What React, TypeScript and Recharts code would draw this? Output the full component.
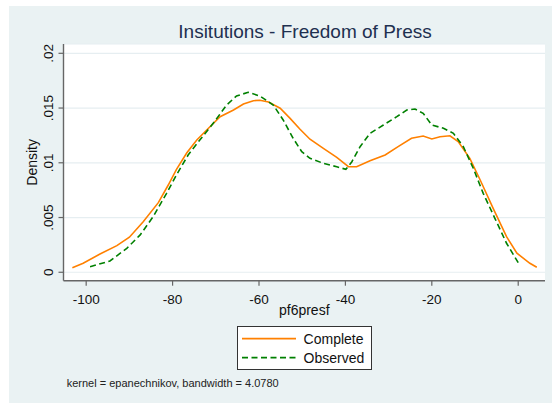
import React from "react";
import {
  ComposedChart,
  Line,
  XAxis,
  YAxis,
  CartesianGrid,
  Legend,
} from "recharts";

// kernel density estimates
const completeX = [
  -103.2, -100.7, -96.8, -92.9, -90.0, -86.8, -83.3, -81.0, -79.1, -76.7,
  -74.4, -72.1, -69.0, -65.9, -63.6, -61.3, -59.8, -57.8, -55.1, -52.8,
  -50.5, -48.2, -45.1, -42.0, -39.3, -37.4, -34.3, -30.8, -27.8, -24.7,
  -22.0, -20.0, -18.1, -15.8, -13.9, -11.2, -8.8, -5.8, -2.7, -0.3, 2.7, 4.3,
];
const completeDensity = [
  0.00042, 0.00082, 0.00167, 0.00243, 0.0032, 0.00462, 0.00636, 0.00797,
  0.0094, 0.01092, 0.01208, 0.013, 0.01421, 0.01482, 0.01537, 0.01567,
  0.01571, 0.01555, 0.01498, 0.01406, 0.01306, 0.01215, 0.01132, 0.0105,
  0.00964, 0.00964, 0.01019, 0.01071, 0.01147, 0.01224, 0.01245, 0.01217,
  0.01238, 0.01247, 0.01193, 0.01041, 0.00843, 0.00584, 0.00325, 0.00174,
  0.00082, 0.00046,
];

const observedX = [
  -99.1, -94.5, -90.6, -87.5, -84.5, -81.4, -79.1, -76.4, -73.7, -70.6,
  -67.5, -65.2, -62.5, -59.8, -56.7, -54.4, -52.1, -50.1, -48.2, -45.1,
  -42.0, -39.9, -38.5, -36.6, -34.3, -31.2, -28.1, -25.8, -23.9, -22.0,
  -20.0, -17.3, -15.0, -12.7, -10.4, -8.1, -5.4, -2.7, 0.0,
];
const observedDensity = [
  0.00051, 0.00103, 0.00219, 0.00341, 0.00508, 0.00721, 0.00889, 0.01071,
  0.01208, 0.0136, 0.01528, 0.0161, 0.01644, 0.0161, 0.01528, 0.01391,
  0.01224, 0.01101, 0.01041, 0.00995, 0.00964, 0.0094, 0.0101, 0.01147,
  0.01269, 0.01345, 0.01421, 0.01482, 0.01491, 0.01452, 0.01345, 0.01315,
  0.01269, 0.01147, 0.0095, 0.00721, 0.00493, 0.00265, 0.00088,
];

const xTicks = [-100, -80, -60, -40, -20, 0];
const yTicks = [0, 0.005, 0.01, 0.015, 0.02];
const yTickLabels = ["0", ".005", ".01", ".015", ".02"];

const seriesNames = ["Complete", "Observed"];
const seriesColors = ["#FF8000", "#008000"];
const seriesDashes = ["", "6 3.5"];

const FONT = "'Liberation Sans', Arial, sans-serif";
const AXIS = "#666";

const completeData = completeX.map((x, i) => ({ x, y: completeDensity[i] }));
const observedData = observedX.map((x, i) => ({ x, y: observedDensity[i] }));

function XTick({ x, y, payload }: any) {
  return (
    <text x={x} y={y + 15.8} textAnchor="middle" fontSize={13.5} fill="#111" fontFamily={FONT}>
      {payload.value}
    </text>
  );
}

function YTick({ y, payload }: any) {
  const idx = yTicks.indexOf(payload.value);
  return (
    <text
      transform={`translate(52.8, ${y}) rotate(-90)`}
      textAnchor="middle"
      fontSize={13.5}
      fill="#111"
      fontFamily={FONT}
    >
      {yTickLabels[idx]}
    </text>
  );
}

function LegendBox() {
  return (
    <div
      style={{
        width: "100%",
        height: "100%",
        boxSizing: "border-box",
        border: "1px solid #333",
        background: "#fff",
      }}
    >
      <svg width={133} height={42} style={{ display: "block" }}>
        {seriesNames.map((name, i) => (
          <g key={name}>
            <line
              x1={4}
              x2={58}
              y1={11.6 + i * 19}
              y2={11.6 + i * 19}
              stroke={seriesColors[i]}
              strokeWidth={1.6}
              strokeDasharray={seriesDashes[i] || undefined}
            />
            <text x={65.6} y={16.6 + i * 19} fontSize={14} fill="#111" fontFamily={FONT}>
              {name}
            </text>
          </g>
        ))}
      </svg>
    </div>
  );
}

export default function App() {
  return (
    <div
      style={{
        position: "absolute",
        left: 0,
        top: 0,
        width: 552,
        height: 403,
        background: "#fff",
        fontFamily: FONT,
        overflow: "hidden",
      }}
    >
      {/* graph region */}
      <div
        style={{
          position: "absolute",
          left: 9,
          top: 6,
          width: 543,
          height: 397,
          background: "#EAF2F3",
        }}
      />
      <div
        style={{
          position: "absolute",
          left: 0,
          top: 22.4,
          width: 610,
          textAlign: "center",
          fontSize: 19,
          lineHeight: "19px",
          color: "#1e3050",
          whiteSpace: "nowrap",
        }}
      >
        Insitutions - Freedom of Press
      </div>

      <div style={{ position: "absolute", left: 0, top: 0 }}>
        <ComposedChart
          width={552}
          height={403}
          margin={{ top: 44, right: 7, bottom: 92.3, left: 3.5 }}
        >
          <CartesianGrid
            vertical={false}
            horizontal
            stroke="#E6EEF1"
            strokeWidth={1.2}
            fill="#fff"
          />
          <XAxis
            dataKey="x"
            type="number"
            domain={[-105.25, 6.2]}
            ticks={xTicks}
            allowDataOverflow
            height={30}
            tickSize={5}
            axisLine={{ stroke: AXIS, strokeWidth: 1.4 }}
            tickLine={{ stroke: AXIS, strokeWidth: 1.2 }}
            tick={<XTick />}
            label={{
              value: "pf6presf",
              content: ({ viewBox }: any) => (
                <text
                  x={viewBox.x + viewBox.width / 2}
                  y={viewBox.y + 34}
                  textAnchor="middle"
                  fontSize={14}
                  fill="#111"
                  fontFamily={FONT}
                >
                  pf6presf
                </text>
              ),
            }}
          />
          <YAxis
            type="number"
            domain={[-0.00077, 0.02085]}
            ticks={yTicks}
            allowDataOverflow
            width={60}
            tickSize={5}
            axisLine={{ stroke: AXIS, strokeWidth: 1.4 }}
            tickLine={{ stroke: AXIS, strokeWidth: 1.2 }}
            tick={<YTick />}
            label={{
              value: "Density",
              content: ({ viewBox }: any) => (
                <text
                  transform={`translate(${viewBox.x + 33}, ${viewBox.y + viewBox.height / 2}) rotate(-90)`}
                  textAnchor="middle"
                  fontSize={14}
                  fill="#111"
                  fontFamily={FONT}
                >
                  Density
                </text>
              ),
            }}
          />
          <Line
            data={completeData}
            dataKey="y"
            name={seriesNames[0]}
            type="linear"
            stroke={seriesColors[0]}
            strokeWidth={1.6}
            dot={false}
            isAnimationActive={false}
          />
          <Line
            data={observedData}
            dataKey="y"
            name={seriesNames[1]}
            type="linear"
            stroke={seriesColors[1]}
            strokeWidth={1.6}
            strokeDasharray={seriesDashes[1]}
            dot={false}
            isAnimationActive={false}
          />
          <Legend
            layout="horizontal"
            verticalAlign="middle"
            align="center"
            wrapperStyle={{ left: 236.5, top: 325.5, width: 135, height: 44.5 }}
            content={() => <LegendBox />}
          />
        </ComposedChart>
      </div>

      <div
        style={{
          position: "absolute",
          left: 66.7,
          top: 377.6,
          fontSize: 11,
          lineHeight: "11px",
          color: "#222",
          whiteSpace: "nowrap",
        }}
      >
        kernel = epanechnikov, bandwidth = 4.0780
      </div>
    </div>
  );
}
